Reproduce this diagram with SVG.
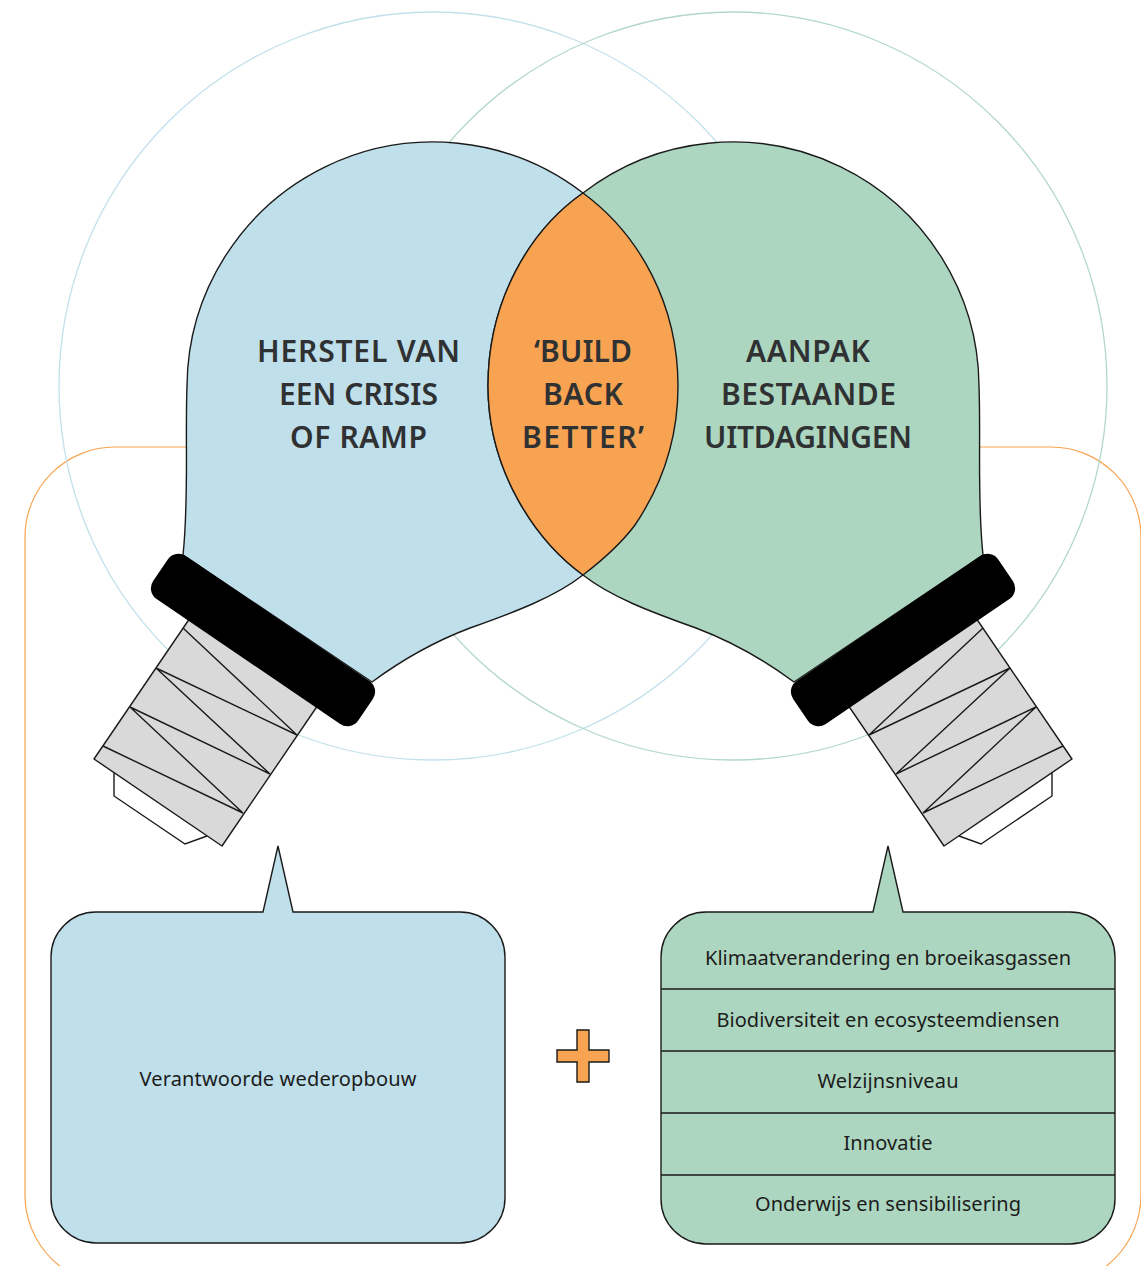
<svg xmlns="http://www.w3.org/2000/svg" xmlns:xlink="http://www.w3.org/1999/xlink" width="1141" height="1266" viewBox="0 0 1141 1266">
<style>
.ln{stroke:#1a1a1a;stroke-width:1.4;fill:none}
.big{font-family:"Noto Sans","Open Sans",sans-serif;font-weight:600;font-size:30px;fill:#2f3133;text-anchor:middle}
.sm{font-family:"Noto Sans","Open Sans",sans-serif;font-size:20px;fill:#1c1c1c;text-anchor:middle}
.scr{fill:#d9d9d9;stroke:#1a1a1a;stroke-width:1.4;stroke-linejoin:round}
.wh{fill:#fff;stroke:#1a1a1a;stroke-width:1.4}
.blue{fill:#bfdfea;stroke:#1a1a1a;stroke-width:1.4}
.green{fill:#add6c0;stroke:#1a1a1a;stroke-width:1.4}
</style>
<defs>
<g id="socket">
<path class="wh" d="M114,770V796L185,844L207,836"/>
<polygon class="scr" points="190,618 318,705 222,846 94,759"/>
<path class="ln" d="M183,628L297,735L156,668L270,774L130,707L243,813L103,746"/>
</g>
<rect id="collar" x="-124" y="-26" width="248" height="52" rx="13" fill="#000"/>
</defs>
<g id="background">
<rect x="25" y="447" width="1116" height="838" rx="90" fill="none" stroke="#f8a351" stroke-width="1.2"/>
<circle cx="433" cy="386" r="374" fill="none" stroke="#c3e1ec" stroke-width="1.3"/>
<circle cx="733" cy="386" r="374" fill="none" stroke="#b3d9c6" stroke-width="1.3"/>
</g>
<g id="bulb-left">
<use href="#socket"/>
<path class="blue" d="M583,193A246,246 0 0 0 187,386C185,440 189,500 183,555L372,682C395,665 425,645 470,628C515,612 555,597 583,575L678,386Z"/>
<use href="#collar" transform="translate(263 640) rotate(34.2)"/>
</g>
<g id="bulb-right">
<use href="#socket" transform="matrix(-1 0 0 1 1166 0)"/>
<path class="green" d="M583,193A246,246 0 0 1 979,386C981,440 977,500 983,555L794,682C771,665 741,645 696,628C651,612 611,597 583,575C535,540 488,470 488,386C488,300 530,230 583,193Z"/>
<use href="#collar" transform="translate(903 640) rotate(-34.2)"/>
</g>
<g id="overlap">
<path d="M583,193C640,235 678,305 678,386C678,440 662,485 635,525C620,545 600,562 583,575C535,540 488,470 488,386C488,300 530,230 583,193Z" fill="#f8a351" stroke="#1a1a1a" stroke-width="1.4"/>
</g>
<g id="labels">
<text class="big" x="358.500" y="362" textLength="203">HERSTEL VAN</text>
<text class="big" x="358.500" y="405" textLength="159">EEN CRISIS</text>
<text class="big" x="358.500" y="448" textLength="137">OF RAMP</text>
<text class="big" x="583" y="362" textLength="98">‘BUILD</text>
<text class="big" x="583" y="405" textLength="80">BACK</text>
<text class="big" x="583" y="448" textLength="122">BETTER’</text>
<text class="big" x="808" y="362" textLength="124">AANPAK</text>
<text class="big" x="808.500" y="405" textLength="175">BESTAANDE</text>
<text class="big" x="808" y="448" textLength="208">UITDAGINGEN</text>
</g>
<g id="callout-left">
<path class="blue" d="M96,912H263L278,846L293,912H460A45,45 0 0 1 505,957V1198A45,45 0 0 1 460,1243H96A45,45 0 0 1 51,1198V957A45,45 0 0 1 96,912Z"/>
<text class="sm" x="278" y="1085.500" textLength="277">Verantwoorde wederopbouw</text>
</g>
<g id="plus">
<path d="M577,1030H589V1050H609V1062H589V1082H577V1062H557V1050H577Z" fill="#f8a351" stroke="#1a1a1a" stroke-width="1.4"/>
</g>
<g id="callout-right">
<path class="green" d="M706,912H873L888,846L903,912H1070A45,45 0 0 1 1115,957V1199A45,45 0 0 1 1070,1244H706A45,45 0 0 1 661,1199V957A45,45 0 0 1 706,912Z"/>
<path class="ln" d="M661,989H1115M661,1051H1115M661,1113H1115M661,1175H1115"/>
<text class="sm" x="888" y="964.500" textLength="366">Klimaatverandering en broeikasgassen</text>
<text class="sm" x="888" y="1026.500" textLength="343">Biodiversiteit en ecosysteemdiensen</text>
<text class="sm" x="888" y="1087.500" textLength="141">Welzijnsniveau</text>
<text class="sm" x="888" y="1149.500" textLength="89">Innovatie</text>
<text class="sm" x="888" y="1210.500" textLength="266">Onderwijs en sensibilisering</text>
</g>
</svg>
